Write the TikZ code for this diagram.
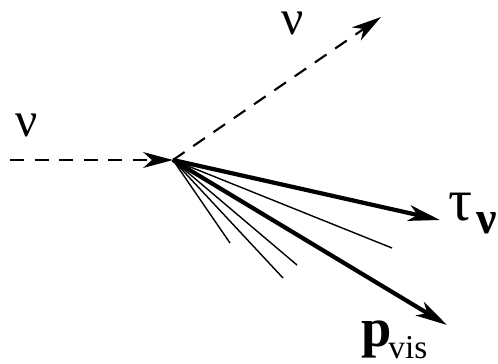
\documentclass[tikz,border=0pt]{standalone}
\usepackage{fontspec}
\setmainfont{Liberation Serif}
\usetikzlibrary{arrows.meta}
\begin{document}
\begin{tikzpicture}[x=0.02cm,y=-0.02cm,
  dsh/.style={line width=1.2pt,dash pattern=on 8pt off 6pt,-{Stealth[length=17pt,width=9pt,inset=5pt]}},
  thk/.style={line width=2.4pt,-{Stealth[length=18pt,width=9pt,inset=5pt]}},
  thn/.style={line width=0.8pt},
  lbl/.style={inner sep=0pt,font=\fontsize{28}{32}\selectfont}]
\useasboundingbox (0,0) rectangle (498,363);
\coordinate (v) at (173,160);
\coordinate (in) at (10,160);
\coordinate (out) at (381,17);
\coordinate (tau) at (440,220);
\coordinate (pv) at (447,325);
\coordinate (t1) at (392,248);
\coordinate (t2) at (297,265);
\coordinate (t3) at (283,278);
\coordinate (t4) at (230,243);
\draw[dsh] (in) -- (v);
\draw[dsh] (v) -- (out);
\draw[thn] (v) -- (t1);
\draw[thn] (v) -- (t2);
\draw[thn] (v) -- (t3);
\draw[thn] (v) -- (t4);
\draw[thk] (v) -- (tau);
\draw[thk] (v) -- (pv);
\node[lbl] (nuin) at (27,125) {ν};
\node[lbl] (nuout) at (293,23) {ν};
\node[lbl,font=\fontsize{34}{38}\selectfont] (taul) at (461,207) {τ};
\node[lbl,font=\fontsize{26}{30}\selectfont\bfseries] (taus) at (487,223) {ν};
\node[lbl,font=\fontsize{31}{36}\selectfont\bfseries] (pvl) at (377,339) {p};
\node[lbl,anchor=base west,font=\fontsize{19}{22}\selectfont] (pvs) at (388,358) {vis};
\end{tikzpicture}
\end{document}
